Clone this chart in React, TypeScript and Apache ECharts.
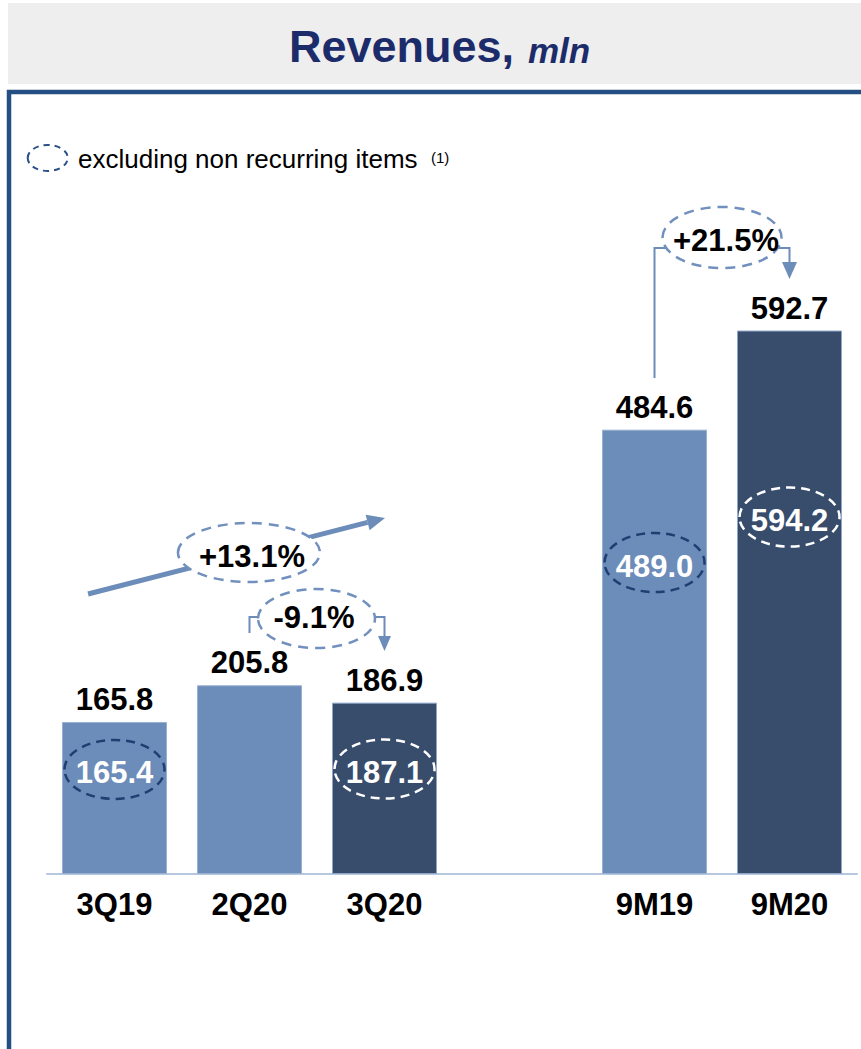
import React, { useEffect, useRef } from 'react';
import * as echarts from 'echarts';

// ---------- data ----------
const categories = ['3Q19', '2Q20', '3Q20', '', '9M19', '9M20'];
const revenues: (number | null)[] = [165.8, 205.8, 186.9, null, 484.6, 592.7];
const adjustedRevenues: (number | null)[] = [165.4, null, 187.1, null, 489.0, 594.2];
const isCurrentPeriod = [false, false, true, false, false, true];
const growthLabels = ['+13.1%', '-9.1%', '+21.5%'];
const titleMain = 'Revenues,';
const titleUnit = 'mln';
const legendText = 'excluding non recurring items';
const legendNote = '(1)';

// ---------- layout (value-space placement of annotations) ----------
const ADJ_LEVEL: (number | null)[] = [114, null, 114.5, null, 339.7, 389.3];

const FONT = "'Liberation Sans', Arial, Helvetica, sans-serif";
const LIGHT = '#6C8CB9';
const DARK = '#384C6C';
const NAVY = '#1F3F73';
const FRAME = '#254F84';

export default function App() {
  const ref = useRef<HTMLDivElement>(null);

  useEffect(() => {
    if (!ref.current) return;
    const chart = echarts.init(ref.current, null, { renderer: 'svg' });

    const adjData = adjustedRevenues
      .map((v, i) => (v == null ? null : [i, ADJ_LEVEL[i] as number, v]))
      .filter((d) => d != null) as number[][];

    chart.setOption({
      animation: false,
      backgroundColor: '#ffffff',
      textStyle: { fontFamily: FONT },
      grid: { left: 47, right: 4, top: 278, bottom: 175 },
      xAxis: {
        type: 'category',
        data: categories,
        axisLine: { show: true, lineStyle: { color: '#B6C7E0', width: 2 } },
        axisTick: { show: false },
        axisLabel: {
          margin: 15,
          color: '#000',
          fontWeight: 'bold',
          fontSize: 31,
          fontFamily: FONT,
          interval: 0,
        },
      },
      yAxis: {
        type: 'value',
        min: 0,
        max: 650,
        show: false,
        splitLine: { show: false },
      },
      series: [
        {
          type: 'bar',
          barWidth: 105,
          data: revenues.map((v, i) => ({
            value: v,
            itemStyle: {
              color: isCurrentPeriod[i] ? DARK : LIGHT,
              borderColor: isCurrentPeriod[i] ? '#8FA6C8' : '#9AB0D0',
              borderWidth: 1,
            },
          })),
          label: {
            show: true,
            position: 'top',
            distance: 7,
            color: '#000',
            fontWeight: 'bold',
            fontSize: 31,
            fontFamily: FONT,
            formatter: (p: any) => (p.value == null ? '' : Number(p.value).toFixed(1)),
          },
          z: 2,
        },
        {
          type: 'custom',
          data: adjData,
          z: 5,
          renderItem: (params: any, api: any) => {
            const idx = api.value(0);
            const level = api.value(1);
            const val = api.value(2);
            const [cx, cy] = api.coord([idx, level]);
            const dark = isCurrentPeriod[idx];
            return {
              type: 'group',
              children: [
                {
                  type: 'ellipse',
                  shape: { cx, cy, rx: 50, ry: 29.5 },
                  style: {
                    fill: 'none',
                    stroke: dark ? '#ffffff' : NAVY,
                    lineWidth: 2.5,
                    lineDash: [9, 6],
                  },
                },
                {
                  type: 'text',
                  x: cx,
                  y: cy + 3.5,
                  style: {
                    text: Number(val).toFixed(1),
                    fill: '#ffffff',
                    font: `bold 31px ${FONT}`,
                    align: 'center',
                    verticalAlign: 'middle',
                  },
                },
              ],
            };
          },
        },
      ],
    });

    // category axis rounds fractional indices, so interpolate between category centres
    const p0 = chart.convertToPixel({ gridIndex: 0 }, [0, 0]) as number[];
    const p1 = chart.convertToPixel({ gridIndex: 0 }, [1, 0]) as number[];
    const step = p1[0] - p0[0];
    const toPx = (i: number, v: number) => {
      const py = chart.convertToPixel({ gridIndex: 0 }, [0, v]) as number[];
      return [p0[0] + i * step, py[1]];
    };

    const head = (tip: number[], from: number[], len: number, halfW: number) => {
      const dx = tip[0] - from[0];
      const dy = tip[1] - from[1];
      const L = Math.hypot(dx, dy);
      const ux = dx / L;
      const uy = dy / L;
      const bx = tip[0] - ux * len;
      const by = tip[1] - uy * len;
      return {
        base: [bx, by],
        points: [
          [tip[0], tip[1]],
          [bx - uy * halfW, by + ux * halfW],
          [bx + uy * halfW, by - ux * halfW],
        ],
      };
    };

    const annEllipse = (c: number[], rx: number, ry: number) => ({
      type: 'ellipse',
      shape: { cx: c[0], cy: c[1], rx, ry },
      style: { fill: '#ffffff', stroke: '#7190BE', lineWidth: 2.5, lineDash: [10, 7] },
      z: 20,
    });
    const annText = (c: number[], text: string, dx: number, dy: number) => ({
      type: 'text',
      x: c[0] + dx,
      y: c[1] + dy,
      style: {
        text,
        fill: '#000',
        font: `bold 31px ${FONT}`,
        align: 'center',
        verticalAlign: 'middle',
      },
      z: 21,
    });

    // +13.1% trend arrow (3Q19 -> 3Q20)
    const a1Start = toPx(-0.196, 305.4);
    const a1Tip = toPx(2.004, 388.3);
    const h1 = head(a1Tip, a1Start, 18, 8);
    const e1 = toPx(0.996, 350.6);

    // -9.1% connector (2Q20 -> 3Q20)
    const c2a = toPx(1, 262.8);
    const c2b = toPx(1, 280.3);
    const c2c = toPx(2, 280.3);
    const c2tip = toPx(2, 243.2);
    const h2 = head(c2tip, c2c, 15, 6.5);
    const e2 = toPx(1.496, 278.6);

    // +21.5% connector (9M19 -> 9M20)
    const c3a = toPx(4, 540.9);
    const c3b = toPx(4, 682.7);
    const c3c = toPx(5, 682.7);
    const c3tip = toPx(5, 648.9);
    const h3 = head(c3tip, c3c, 17, 7.5);
    const e3 = toPx(4.5, 694.2);

    chart.setOption({
      graphic: [
        // title bar
        {
          type: 'rect',
          shape: { x: 8, y: 3, width: 853, height: 81 },
          style: { fill: '#EEEEEE' },
          z: 0,
        },
        {
          type: 'text',
          x: 289,
          y: 46,
          style: {
            text: titleMain,
            fill: '#1C2C6B',
            font: `bold 45px ${FONT}`,
            align: 'left',
            verticalAlign: 'middle',
          },
          z: 1,
        },
        {
          type: 'text',
          x: 528,
          y: 50,
          style: {
            text: titleUnit,
            fill: '#1C2C6B',
            font: `italic bold 35px ${FONT}`,
            align: 'left',
            verticalAlign: 'middle',
          },
          z: 1,
        },
        // frame
        {
          type: 'rect',
          shape: { x: 9, y: 92, width: 900, height: 1000 },
          style: { fill: 'none', stroke: FRAME, lineWidth: 4.5 },
          z: 1,
        },
        // legend
        {
          type: 'ellipse',
          shape: { cx: 47.7, cy: 158, rx: 20, ry: 13 },
          style: { fill: 'none', stroke: '#2B5087', lineWidth: 2, lineDash: [6, 5] },
          z: 1,
        },
        {
          type: 'text',
          x: 78,
          y: 159.3,
          style: {
            text: legendText,
            fill: '#000',
            font: `26px ${FONT}`,
            align: 'left',
            verticalAlign: 'middle',
          },
          z: 1,
        },
        {
          type: 'text',
          x: 431,
          y: 157,
          style: {
            text: legendNote,
            fill: '#000',
            font: `15px ${FONT}`,
            align: 'left',
            verticalAlign: 'middle',
          },
          z: 1,
        },
        // +13.1%
        {
          type: 'line',
          shape: { x1: a1Start[0], y1: a1Start[1], x2: h1.base[0], y2: h1.base[1] },
          style: { stroke: LIGHT, lineWidth: 5 },
          z: 10,
        },
        { type: 'polygon', shape: { points: h1.points }, style: { fill: LIGHT }, z: 10 },
        annEllipse(e1, 71, 29.5),
        annText(e1, growthLabels[0], 3, 3.5),
        // -9.1%
        {
          type: 'polyline',
          shape: { points: [c2a, c2b, c2c, h2.base] },
          style: { stroke: LIGHT, lineWidth: 2, fill: 'none' },
          z: 10,
        },
        { type: 'polygon', shape: { points: h2.points }, style: { fill: LIGHT }, z: 10 },
        annEllipse(e2, 58.5, 29.5),
        annText(e2, growthLabels[1], -2.5, -1),
        // +21.5%
        {
          type: 'polyline',
          shape: { points: [c3a, c3b, c3c, h3.base] },
          style: { stroke: LIGHT, lineWidth: 2, fill: 'none' },
          z: 10,
        },
        { type: 'polygon', shape: { points: h3.points }, style: { fill: LIGHT }, z: 10 },
        annEllipse(e3, 59.5, 30.5),
        annText(e3, growthLabels[2], 4, 3.5),
      ],
    });

    return () => chart.dispose();
  }, []);

  return (
    <div
      ref={ref}
      style={{ position: 'fixed', left: 0, top: 0, width: 861, height: 1049, background: '#fff' }}
    />
  );
}
